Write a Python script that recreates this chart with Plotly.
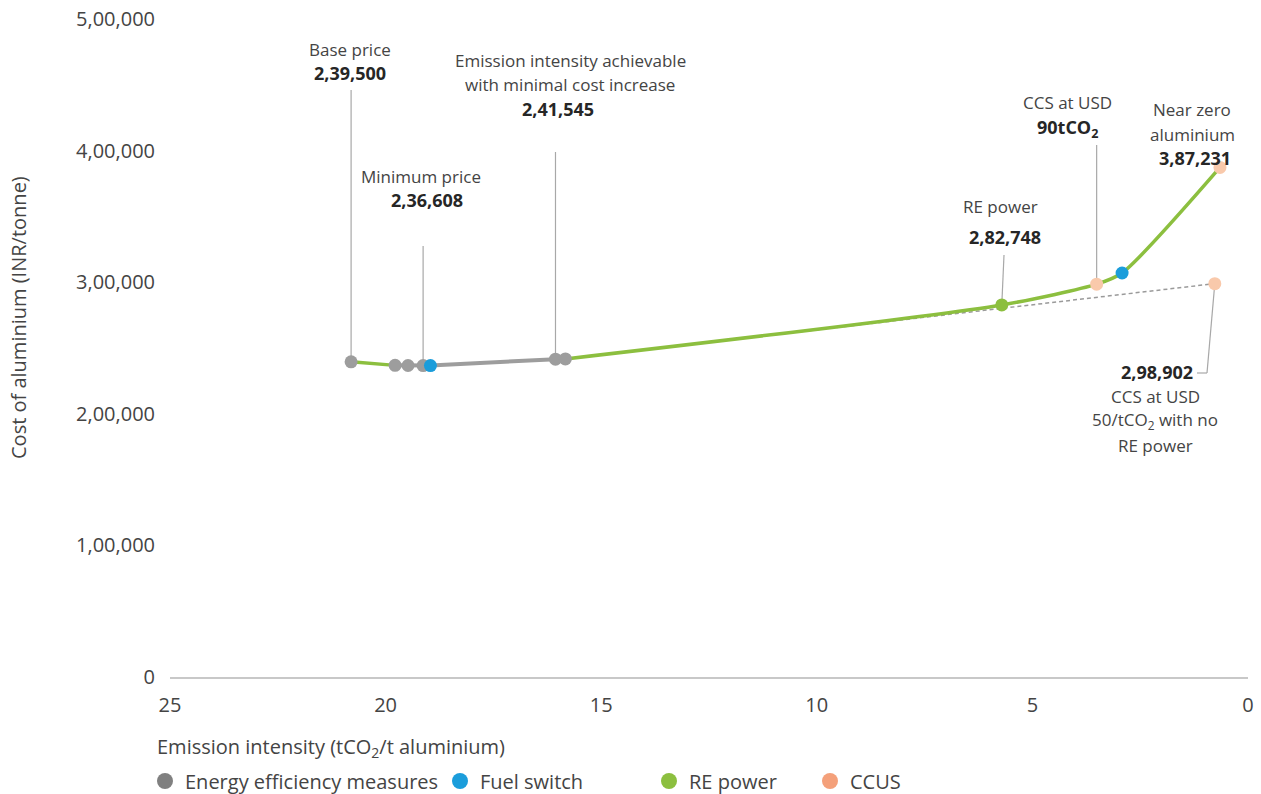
import plotly.graph_objects as go

# Emission intensity (tCO2/t aluminium) and cost (INR/tonne) of each abatement step
ee_x = [20.80, 19.78, 19.48, 19.13, 16.06, 15.83]          # energy efficiency measures
ee_y = [239500, 236800, 236700, 236608, 241545, 241700]
fs_x = [18.96, 2.92]                                         # fuel switch
fs_y = [236650, 307000]
re_x = [5.71]                                                # RE power
re_y = [282748]
ccus_x = [3.51, 0.65]                                        # CCUS on the RE pathway
ccus_y = [298500, 387231]
nore_x = [0.77]                                              # CCS at USD 50/tCO2, no RE power
nore_y = [298902]

y_ticks = [0, 100000, 200000, 300000, 400000, 500000]
x_ticks = [25, 20, 15, 10, 5, 0]
legend_names = ["Energy efficiency measures", "Fuel switch", "RE power", "CCUS"]

C_GREY, C_BLUE, C_GREEN, C_CCUS = "#9d9d9d", "#1b9ddb", "#8cbf3f", "#f9c9ab"
L_GREY, L_CCUS = "#808080", "#f4a07a"
TXT, TXT_B = "#444444", "#262626"
FONT = "Open Sans"


def inr(v):
    """Indian digit grouping: 239500 -> 2,39,500"""
    s = str(int(round(v)))
    if len(s) <= 3:
        return s
    head, tail = s[:-3], s[-3:]
    groups = []
    while len(head) > 2:
        groups.insert(0, head[-2:])
        head = head[:-2]
    if head:
        groups.insert(0, head)
    return ",".join(groups) + "," + tail


# main pathway: all steps ordered from high to low emission intensity
path = sorted(zip(ee_x + fs_x + re_x + ccus_x, ee_y + fs_y + re_y + ccus_y),
              key=lambda p: -p[0])
px_, py_ = [p[0] for p in path], [p[1] for p in path]
i_ee_end = px_.index(ee_x[-1])

fig = go.Figure()

# CCS without RE power: dashed straight line from the efficiency plateau
fig.add_trace(go.Scatter(x=[ee_x[-1], nore_x[0]], y=[ee_y[-1], nore_y[0]], mode="lines",
                         line=dict(color="#9a9a9a", width=1.5, dash="4px,3px"),
                         hoverinfo="skip", showlegend=False))
# pathway line
fig.add_trace(go.Scatter(x=px_[:2], y=py_[:2], mode="lines",
                         line=dict(color=C_GREEN, width=3.5), hoverinfo="skip", showlegend=False))
fig.add_trace(go.Scatter(x=px_[1:i_ee_end + 1], y=py_[1:i_ee_end + 1], mode="lines",
                         line=dict(color=C_GREY, width=4), hoverinfo="skip", showlegend=False))
fig.add_trace(go.Scatter(x=px_[i_ee_end:], y=py_[i_ee_end:], mode="lines",
                         line=dict(color=C_GREEN, width=3.5, shape="spline", smoothing=0.7),
                         hoverinfo="skip", showlegend=False))

# step markers
mk = dict(size=13, line=dict(width=0))
fig.add_trace(go.Scatter(x=ee_x, y=ee_y, mode="markers", marker=dict(color=C_GREY, **mk),
                         showlegend=False, cliponaxis=False))
fig.add_trace(go.Scatter(x=fs_x, y=fs_y, mode="markers", marker=dict(color=C_BLUE, **mk),
                         showlegend=False, cliponaxis=False))
fig.add_trace(go.Scatter(x=re_x, y=re_y, mode="markers", marker=dict(color=C_GREEN, **mk),
                         showlegend=False, cliponaxis=False))
fig.add_trace(go.Scatter(x=ccus_x + nore_x, y=ccus_y + nore_y, mode="markers",
                         marker=dict(color=C_CCUS, **mk), showlegend=False, cliponaxis=False))

# plot-area geometry in pixels
W, H = 1261, 794
L, R, T, B = 170, 1248, 19, 677

# legend entries, one small legend per entry so each sits at its own offset
legend_cols = [L_GREY, C_BLUE, C_GREEN, L_CCUS]
legend_left = [145, 440, 649, 810]
legend_layout = {}
for i, (name, col, lx) in enumerate(zip(legend_names, legend_cols, legend_left)):
    key = "legend" if i == 0 else f"legend{i + 1}"
    fig.add_trace(go.Scatter(x=[None], y=[None], mode="markers", name=name, legend=key,
                             marker=dict(color=col, size=17)))
    legend_layout[key] = dict(orientation="h", xref="container", yref="container",
                              x=lx / W, y=1 - 781 / H, xanchor="left", yanchor="middle",
                              font=dict(family=FONT, size=20, color=TXT), itemclick=False,
                              bgcolor="rgba(0,0,0,0)")


def pxx(x):
    return (x - L) / (R - L)


def pxy(y):
    return (B - y) / (B - T)


ann = []


def label(text, x, y, bold=False, xanchor="center"):
    ann.append(dict(text=f"<b>{text}</b>" if bold else text, xref="paper", yref="paper",
                    x=pxx(x), y=pxy(y), xanchor=xanchor, yanchor="middle", showarrow=False,
                    font=dict(family=FONT, size=18 if bold else 17,
                              color=TXT_B if bold else TXT)))


label("Base price", 350, 49)
label(inr(ee_y[0]), 350, 73, bold=True)
label("Minimum price", 421, 176)
label(inr(min(ee_y)), 427, 200, bold=True)
label("Emission intensity achievable", 570, 60)
label("with minimal cost increase", 570, 85)
label(inr(ee_y[4]), 558, 109, bold=True)
label("RE power", 1000, 206)
label(inr(re_y[0]), 1005, 237, bold=True)
label("CCS at USD", 1067, 103)
label("90tCO<sub>2</sub>", 1067, 128, bold=True)
label("Near zero", 1192, 109)
label("aluminium", 1192, 134)
label(inr(ccus_y[1]), 1195, 158, bold=True)
label(inr(nore_y[0]), 1195, 372, bold=True, xanchor="right")
label("CCS at USD", 1155, 396)
label("50/tCO<sub>2</sub> with no", 1155, 420)
label("RE power", 1155, 445)

# axis titles
ann.append(dict(text="Cost of aluminium (INR/tonne)", xref="paper", yref="paper",
                x=pxx(18), y=pxy(318), textangle=-90, showarrow=False,
                xanchor="center", yanchor="middle", font=dict(family=FONT, size=20, color=TXT)))
ann.append(dict(text="Emission intensity (tCO<sub>2</sub>/t aluminium)", xref="paper", yref="paper",
                x=pxx(155), y=pxy(747), showarrow=False, xanchor="left", yanchor="middle",
                font=dict(family=FONT, size=20, color=TXT)))


# leader lines: from a step marker (data units) to a pixel anchor
def to_dx(p):
    return 25 - (p - L) / ((R - L) / 25.0)


def to_dy(p):
    return (B - p) / (B - T) * 500000


LEAD = dict(color="#a8a8a8", width=1.2)
shapes = []


def leader(x0, y0, x1, y1):
    shapes.append(dict(type="line", xref="x", yref="y", x0=x0, y0=y0, x1=x1, y1=y1,
                       line=LEAD, layer="below"))


leader(ee_x[0], ee_y[0], ee_x[0], to_dy(90))
leader(ee_x[3], ee_y[3], ee_x[3], to_dy(246))
leader(ee_x[4], ee_y[4], ee_x[4], to_dy(152))
leader(re_x[0], re_y[0], to_dx(1004), to_dy(255))
leader(ccus_x[0], ccus_y[0], ccus_x[0], to_dy(145))
leader(nore_x[0], nore_y[0], to_dx(1207), to_dy(373))
leader(to_dx(1207), to_dy(373), to_dx(1197), to_dy(373))

fig.update_layout(
    width=W, height=H,
    margin=dict(l=L, r=W - R, t=T, b=H - B, autoexpand=False),
    plot_bgcolor="white", paper_bgcolor="white",
    font=dict(family=FONT, size=20, color=TXT),
    xaxis=dict(range=[25, 0], tickvals=x_ticks, ticktext=[str(t) for t in x_ticks],
               showgrid=False, zeroline=False, showline=True, linecolor="#c8c8c8",
               linewidth=2, ticks="", ticklabelstandoff=9, automargin=False,
               tickfont=dict(family=FONT, size=20, color=TXT)),
    yaxis=dict(range=[0, 500000], tickvals=y_ticks, ticktext=[inr(t) for t in y_ticks],
               showgrid=False, zeroline=False, showline=False, ticks="", automargin=False,
               ticklabelstandoff=14, tickfont=dict(family=FONT, size=20, color=TXT)),
    annotations=ann,
    shapes=shapes,
    hovermode=False,
    **legend_layout,
)

fig.write_html("out.html")
